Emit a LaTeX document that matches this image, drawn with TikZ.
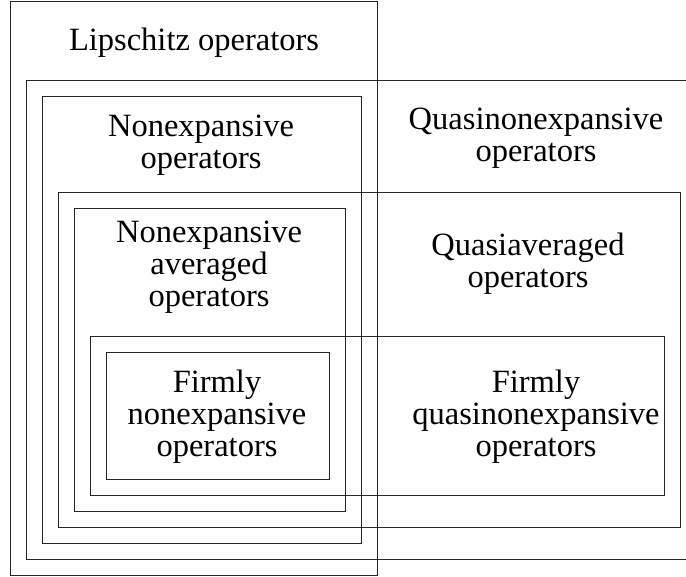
\documentclass[tikz,border=0pt]{standalone}
\usepackage{fontspec}
\setmainfont{Liberation Serif}
\begin{document}
\begin{tikzpicture}[x=1pt,y=-1pt,
  setbox/.style={draw=black!85,line width=0.9pt},
  setlabel/.style={align=center,font=\fontsize{32.5}{32}\selectfont,inner sep=0pt}]
\useasboundingbox (0,0) rectangle (686,577);
\clip (0,0) rectangle (686,577);
% nested classes of operators
\draw[setbox] (10,1.5) rectangle (377,575);     % Lipschitz
\draw[setbox] (26,80) rectangle (720,559);      % quasinonexpansive
\draw[setbox] (42,96) rectangle (361,543);      % nonexpansive
\draw[setbox] (58,192) rectangle (680,527);     % quasiaveraged
\draw[setbox] (74,208) rectangle (345,511);     % nonexpansive averaged
\draw[setbox] (90,336) rectangle (664,495);     % firmly quasinonexpansive
\draw[setbox] (106,352) rectangle (329,479);    % firmly nonexpansive
% labels
\node[setlabel] (lip) at (194,43) {Lipschitz operators};
\node[setlabel] (ne) at (201,145) {Nonexpansive\\operators};
\node[setlabel] (qne) at (536,138) {Quasinonexpansive\\operators};
\node[setlabel] (nea) at (209,267) {Nonexpansive\\averaged\\operators};
\node[setlabel] (qa) at (528,264) {Quasiaveraged\\operators};
\node[setlabel] (fne) at (217,417) {Firmly\\nonexpansive\\operators};
\node[setlabel] (fqne) at (536,417) {Firmly\\quasinonexpansive\\operators};
\end{tikzpicture}
\end{document}
